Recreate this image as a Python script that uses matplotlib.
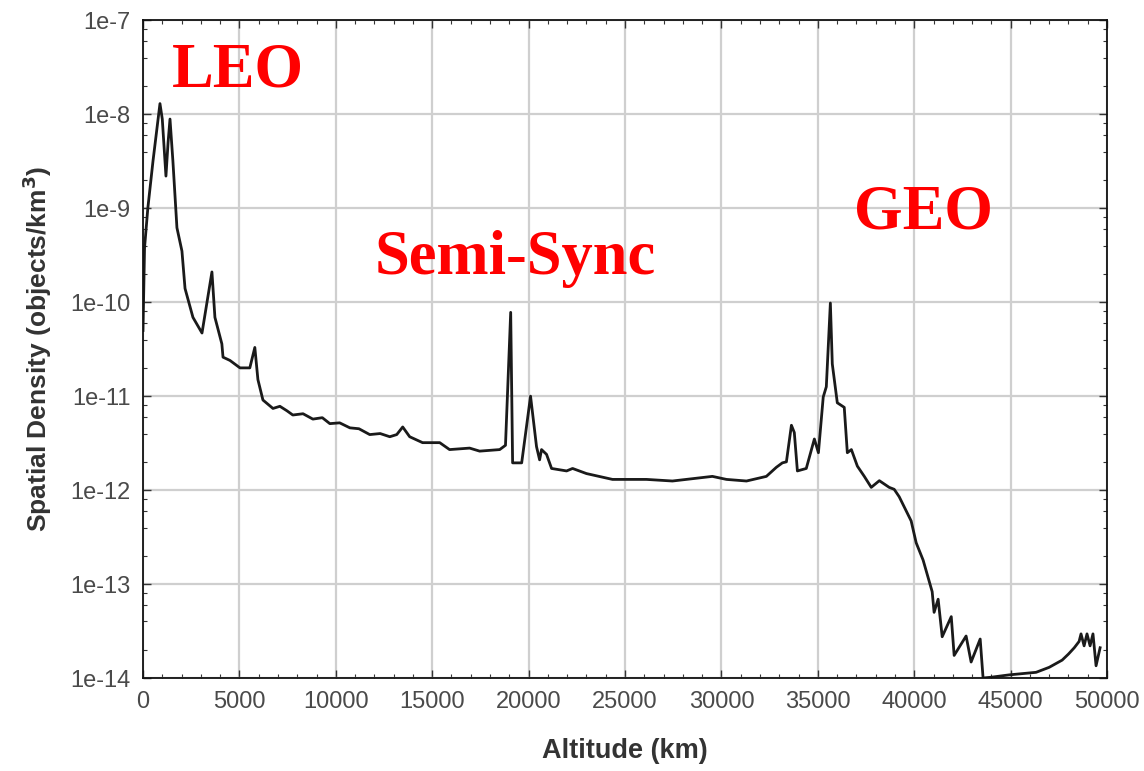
import numpy as np
import matplotlib
matplotlib.use("Agg")
import matplotlib.pyplot as plt
from matplotlib.ticker import FixedLocator, FuncFormatter, LogLocator, MultipleLocator

# altitude (km) and spatial density (objects/km^3)
altitude = [0, 80, 250, 520, 880, 1000, 1190, 1300, 1400, 1550, 1760, 2020, 2180,
            2590, 3060, 3575, 3730, 4090, 4150, 4510, 5030, 5540, 5800, 5960, 6220,
            6740, 7100, 7460, 7770, 8300, 8810, 9300, 9690, 10200, 10730, 11200,
            11760, 12300, 12800, 13160, 13470, 13830,
            14500, 15390, 15900, 16940, 17460, 18500, 18800, 19070, 19170, 19640,
            20100, 20410, 20570, 20670, 20930, 21190, 21970, 22280, 23000, 24350,
            26110, 27460, 29530, 30260, 31300, 32330, 32850, 33160, 33370, 33630,
            33780, 33940, 34400, 34820, 35030, 35280, 35440, 35650, 35750, 36010,
            36370, 36530, 36740, 37050, 37410, 37770, 38190, 38700, 38960, 39220,
            39840, 40100, 40460, 40930, 41030, 41240, 41450, 41920, 42070, 42690,
            42950, 43420, 43570, 44000, 44920, 46320, 47000, 47670, 48000, 48300,
            48550, 48650, 48810, 48960, 49120, 49270, 49430, 49640]
density = [5e-11, 3.8e-10, 1.0e-9, 3.2e-9, 1.3e-8, 8.9e-9, 2.2e-9, 5e-9, 8.9e-9,
           3.2e-9, 6.2e-10, 3.5e-10, 1.4e-10, 6.9e-11, 4.7e-11, 2.1e-10, 6.9e-11,
           3.6e-11, 2.6e-11, 2.4e-11, 2.0e-11, 2.0e-11, 3.3e-11, 1.5e-11, 9.1e-12,
           7.4e-12, 7.8e-12, 7.0e-12, 6.3e-12, 6.5e-12, 5.7e-12, 5.9e-12, 5.1e-12,
           5.2e-12, 4.6e-12, 4.5e-12, 3.9e-12, 4.0e-12, 3.7e-12,
           3.9e-12, 4.7e-12, 3.7e-12, 3.2e-12, 3.2e-12, 2.7e-12, 2.8e-12, 2.6e-12,
           2.7e-12, 3.0e-12, 7.8e-11, 1.95e-12, 1.95e-12, 1.0e-11, 2.9e-12, 2.1e-12,
           2.7e-12, 2.4e-12, 1.7e-12, 1.6e-12, 1.7e-12, 1.5e-12, 1.3e-12, 1.3e-12,
           1.25e-12, 1.4e-12, 1.3e-12, 1.25e-12, 1.4e-12, 1.75e-12, 1.95e-12, 2.0e-12,
           4.9e-12, 4.1e-12, 1.6e-12, 1.7e-12, 3.5e-12, 2.5e-12, 9.8e-12, 1.26e-11,
           9.8e-11, 2.2e-11, 8.5e-12, 7.6e-12, 2.5e-12, 2.7e-12, 1.8e-12, 1.4e-12,
           1.07e-12, 1.26e-12, 1.07e-12, 1.02e-12, 8.5e-13, 4.7e-13, 2.75e-13,
           1.8e-13, 8.3e-14, 5.0e-14, 6.9e-14, 2.75e-14, 4.5e-14, 1.74e-14, 2.8e-14,
           1.48e-14, 2.6e-14, 1.0e-14, 1.02e-14, 1.08e-14, 1.15e-14, 1.3e-14,
           1.55e-14, 1.8e-14, 2.1e-14, 2.45e-14, 2.95e-14, 2.2e-14, 2.95e-14,
           2.2e-14, 2.95e-14, 1.35e-14, 2.1e-14]

y_ticks = [1e-14, 1e-13, 1e-12, 1e-11, 1e-10, 1e-9, 1e-8, 1e-7]
y_tick_labels = ["1e-14", "1e-13", "1e-12", "1e-11", "1e-10", "1e-9", "1e-8", "1e-7"]
x_ticks = [0, 5000, 10000, 15000, 20000, 25000, 30000, 35000, 40000, 45000, 50000]

regions = ["LEO", "Semi-Sync", "GEO"]
region_pos = [(1500, 2.0e-8), (12000, 2.0e-10), (36860, 6.1e-10)]

plt.rcParams['font.family'] = ['Liberation Sans', 'DejaVu Sans']

fig = plt.figure(figsize=(11.44, 7.71), dpi=100)
ax = fig.add_axes([0.125, 0.1206, 0.8427, 0.853])

ax.plot(altitude, density, color='#1a1a1a', lw=2.0)
ax.set_yscale('log')
ax.set_xlim(0, 50000)
ax.set_ylim(1e-14, 1e-7)

ax.yaxis.set_major_locator(FixedLocator(y_ticks))
ax.yaxis.set_major_formatter(FuncFormatter(lambda v, p: y_tick_labels[y_ticks.index(v)] if v in y_ticks else ""))
ax.yaxis.set_minor_locator(LogLocator(base=10, subs=(2.0, 4.0, 6.0, 8.0)))
ax.yaxis.set_minor_formatter(FuncFormatter(lambda v, p: ""))
ax.xaxis.set_major_locator(FixedLocator(x_ticks))
ax.xaxis.set_minor_locator(MultipleLocator(1000))

ax.grid(True, which='major', color='#cfcfcf', lw=1.6)
ax.tick_params(which='both', direction='in', top=True, right=True, colors='#333333',
               labelcolor='#4a4a4a', labelsize=17)
ax.tick_params(which='major', length=6, width=1.0, pad=9)
ax.tick_params(which='minor', length=3, width=0.8)
for s in ax.spines.values():
    s.set_color('#111111')
    s.set_linewidth(1.3)

ax.set_xlabel('Altitude (km)', fontsize=19.5, fontweight='bold', color='#333333', labelpad=18)
ax.set_ylabel('Spatial Density (objects/km$^\\mathbf{3}$)', fontsize=19, fontweight='bold',
              color='#333333', labelpad=12)

for name, (xr, yr) in zip(regions, region_pos):
    ax.text(xr, yr, name, color='#ff0000', fontsize=45, fontweight='bold',
            family=['Liberation Serif', 'DejaVu Serif'], ha='left', va='baseline')

fig.savefig('out.png', dpi=100)
